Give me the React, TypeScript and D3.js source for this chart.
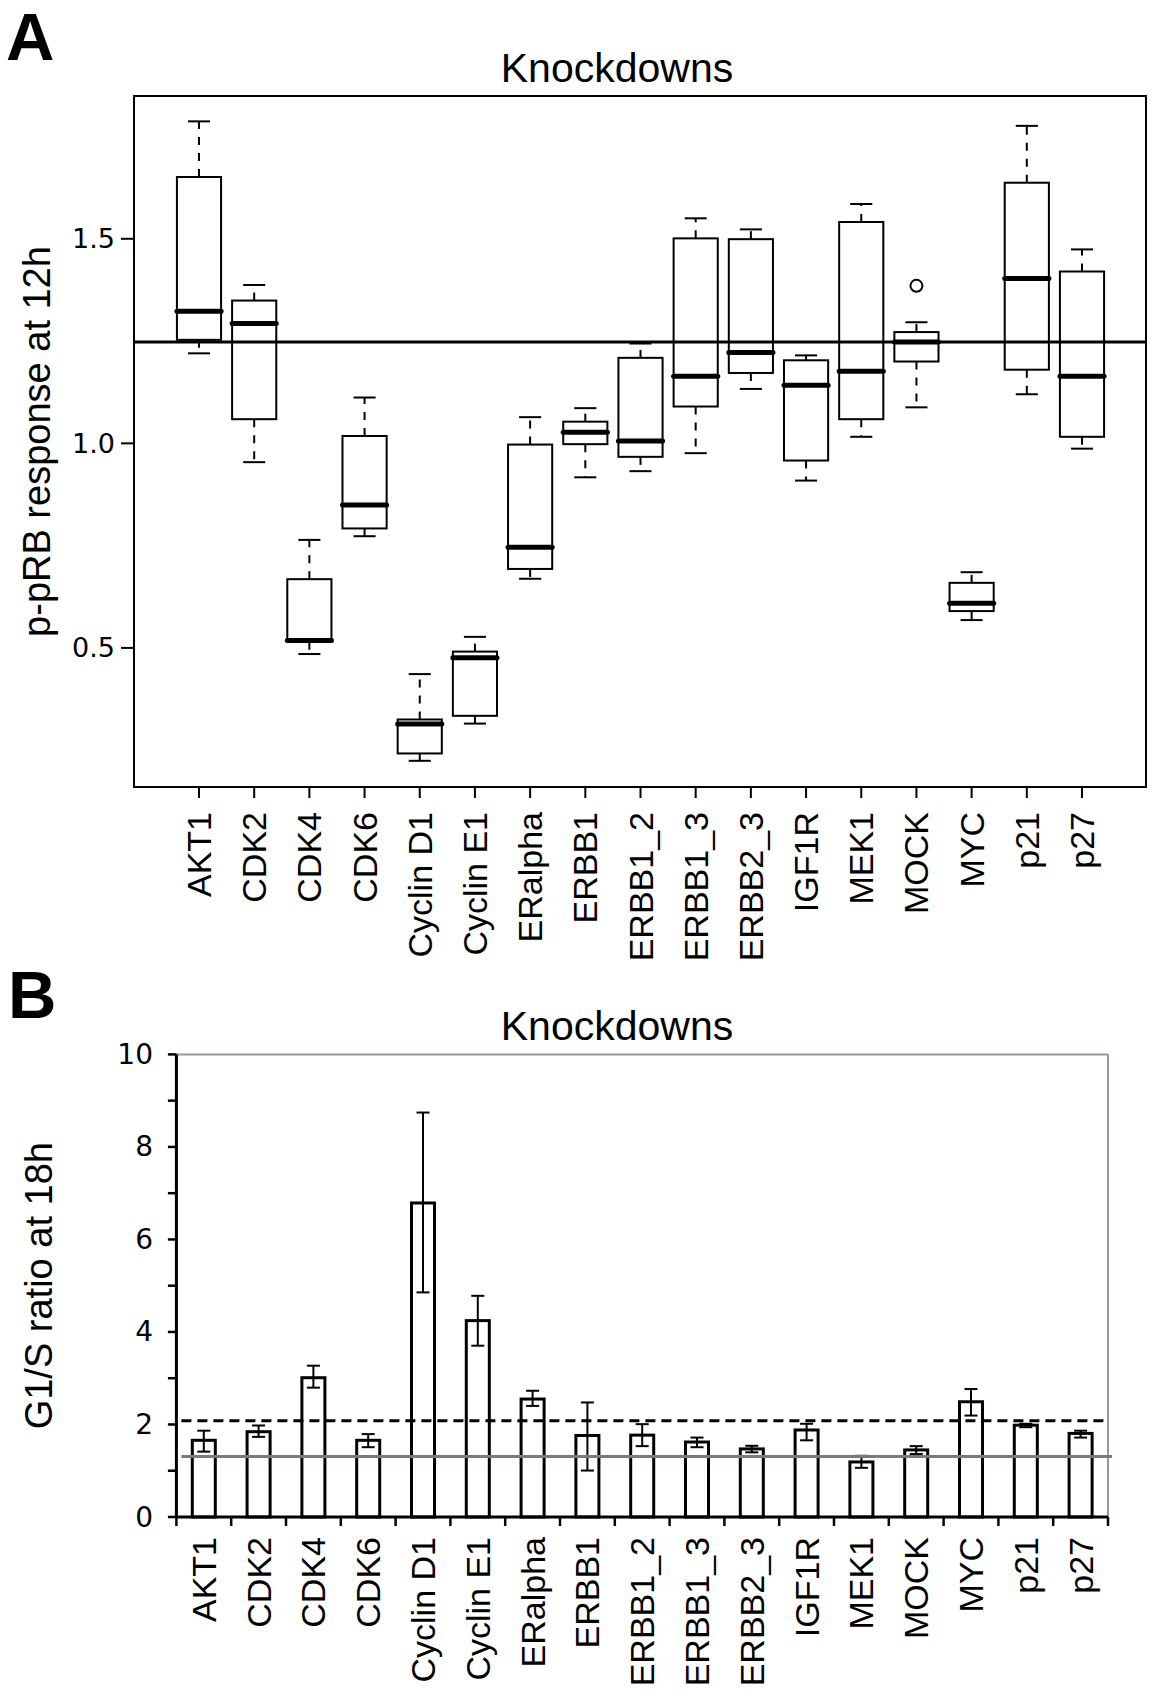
import * as d3 from "d3";

// knockdown targets, same order in both panels
const categories = [
  "AKT1", "CDK2", "CDK4", "CDK6", "Cyclin D1", "Cyclin E1", "ERalpha", "ERBB1",
  "ERBB1_2", "ERBB1_3", "ERBB2_3", "IGF1R", "MEK1", "MOCK", "MYC", "p21", "p27",
];

// panel A: p-pRB response at 12h (box plot summaries)
const whiskerHigh = [1.787, 1.387, 0.764, 1.112, 0.436, 0.527, 1.064, 1.086, 1.244, 1.55, 1.523, 1.215, 1.585, 1.296, 0.685, 1.776, 1.474];
const upperQ = [1.651, 1.349, 0.668, 1.018, 0.325, 0.491, 0.997, 1.053, 1.209, 1.501, 1.499, 1.203, 1.541, 1.272, 0.659, 1.637, 1.42];
const medians = [1.323, 1.293, 0.518, 0.849, 0.314, 0.476, 0.746, 1.027, 1.006, 1.164, 1.222, 1.142, 1.176, 1.248, 0.609, 1.403, 1.164];
const lowerQ = [1.253, 1.059, 0.515, 0.792, 0.242, 0.334, 0.693, 0.998, 0.967, 1.09, 1.172, 0.958, 1.059, 1.2, 0.59, 1.18, 1.016];
const whiskerLow = [1.22, 0.954, 0.485, 0.773, 0.224, 0.315, 0.669, 0.917, 0.932, 0.976, 1.133, 0.909, 1.016, 1.088, 0.568, 1.12, 0.987];
const outliers = [{ cat: "MOCK", value: 1.385 }];
const mockLevel = 1.248;
const ticksA = [0.5, 1.0, 1.5];

// panel B: G1/S ratio at 18h
const ratioMeans = [1.658, 1.844, 3.011, 1.658, 6.788, 4.245, 2.55, 1.762, 1.77, 1.621, 1.472, 1.881, 1.19, 1.45, 2.491, 1.985, 1.807];
const errHigh = [1.866, 1.978, 3.271, 1.792, 8.743, 4.781, 2.729, 2.476, 2.007, 1.717, 1.539, 2.015, 1.323, 1.532, 2.766, 2.015, 1.866];
const errLow = [1.413, 1.732, 2.796, 1.509, 4.855, 3.703, 2.401, 1.004, 1.532, 1.509, 1.398, 1.658, 1.063, 1.361, 2.193, 1.941, 1.717];
const dashedLevel = 2.082;
const greyLevel = 1.309;
const ticksB = d3.range(0, 11, 1);

const W = 1173;
const H = 1706;
const arial = "'Liberation Sans', Arial, sans-serif";
const verdana = "'DejaVu Sans', Verdana, sans-serif";

// panel A geometry
const boxA = { left: 134, right: 1146, top: 96, bottom: 787 };
// panel B geometry
const boxB = { left: 176.4, right: 1108, top: 1054.4, bottom: 1517 };

function App() {
  const xA = d3.scalePoint<string>().domain(categories).range([199, 1082]);
  const yA = d3.scaleLinear().domain([0.16, 1.849]).range([boxA.bottom, boxA.top]);
  const boxW = xA.step() * 0.8;
  const capW = boxW * 0.5;

  const xB = d3
    .scaleBand<string>()
    .domain(categories)
    .range([boxB.left, boxB.right])
    .paddingInner(0.58)
    .paddingOuter(0.29);
  const yB = d3.scaleLinear().domain([0, 10]).range([boxB.bottom, boxB.top]);
  const bw = xB.bandwidth();
  const edgesB = categories
    .map((c) => (xB(c) as number) + bw / 2 - xB.step() / 2)
    .concat([boxB.right]);

  return (
    <svg
      width={W}
      height={H}
      style={{ position: "absolute", left: 0, top: 0, background: "white" }}
    >
      {/* ---------- panel A ---------- */}
      <text x={6} y={60} fontFamily={arial} fontWeight="bold" fontSize={67}>A</text>
      <text x={617} y={82} textAnchor="middle" fontFamily={arial} fontSize={41}>
        Knockdowns
      </text>
      <text
        transform={`translate(50,${(boxA.top + boxA.bottom) / 2}) rotate(-90)`}
        textAnchor="middle"
        fontFamily={arial}
        fontSize={38}
      >
        p-pRB response at 12h
      </text>

      <rect
        x={boxA.left}
        y={boxA.top}
        width={boxA.right - boxA.left}
        height={boxA.bottom - boxA.top}
        fill="none"
        stroke="black"
        strokeWidth={2}
      />

      {/* y axis */}
      {ticksA.map((t) => (
        <g key={t}>
          <line x1={boxA.left - 13} x2={boxA.left} y1={yA(t)} y2={yA(t)} stroke="black" strokeWidth={2} />
          <text
            x={115}
            y={yA(t)}
            textAnchor="end"
            dominantBaseline="central"
            fontFamily={verdana}
            fontSize={27}
          >
            {t.toFixed(1)}
          </text>
        </g>
      ))}

      {/* x axis */}
      {categories.map((c) => (
        <g key={c}>
          <line x1={xA(c)} x2={xA(c)} y1={boxA.bottom} y2={boxA.bottom + 11} stroke="black" strokeWidth={2} />
          <text
            transform={`translate(${(xA(c) as number) + 12},812) rotate(-90)`}
            textAnchor="end"
            fontFamily={arial}
            fontSize={34}
          >
            {c}
          </text>
        </g>
      ))}

      {/* boxes */}
      {categories.map((c, i) => {
        const cx = xA(c) as number;
        return (
          <g key={c} stroke="black">
            <line x1={cx} x2={cx} y1={yA(upperQ[i])} y2={yA(whiskerHigh[i])} strokeWidth={2} strokeDasharray="8 8" />
            <line x1={cx} x2={cx} y1={yA(lowerQ[i])} y2={yA(whiskerLow[i])} strokeWidth={2} strokeDasharray="8 8" />
            <line x1={cx - capW / 2} x2={cx + capW / 2} y1={yA(whiskerHigh[i])} y2={yA(whiskerHigh[i])} strokeWidth={2} />
            <line x1={cx - capW / 2} x2={cx + capW / 2} y1={yA(whiskerLow[i])} y2={yA(whiskerLow[i])} strokeWidth={2} />
            <rect
              x={cx - boxW / 2}
              y={yA(upperQ[i])}
              width={boxW}
              height={yA(lowerQ[i]) - yA(upperQ[i])}
              fill="white"
              strokeWidth={2}
            />
            <line
              x1={cx - boxW / 2}
              x2={cx + boxW / 2}
              y1={yA(medians[i])}
              y2={yA(medians[i])}
              strokeWidth={5}
              strokeLinecap="round"
            />
          </g>
        );
      })}
      {outliers.map((o) => (
        <circle key={o.cat} cx={xA(o.cat)} cy={yA(o.value)} r={6} fill="none" stroke="black" strokeWidth={2} />
      ))}
      <line x1={boxA.left} x2={boxA.right} y1={yA(mockLevel)} y2={yA(mockLevel)} stroke="black" strokeWidth={3} />

      {/* ---------- panel B ---------- */}
      <text x={8} y={1018} fontFamily={arial} fontWeight="bold" fontSize={67}>B</text>
      <text x={617} y={1040} textAnchor="middle" fontFamily={arial} fontSize={41}>
        Knockdowns
      </text>
      <text
        transform={`translate(52,${(boxB.top + boxB.bottom) / 2}) rotate(-90)`}
        textAnchor="middle"
        fontFamily={arial}
        fontSize={38}
      >
        G1/S ratio at 18h
      </text>

      {/* grey frame top/right */}
      <line x1={boxB.left} x2={boxB.right} y1={boxB.top} y2={boxB.top} stroke="#8e9b9b" strokeWidth={2} />
      <line x1={boxB.right} x2={boxB.right} y1={boxB.top} y2={boxB.bottom} stroke="#8e9b9b" strokeWidth={2} />

      {/* bars + error bars */}
      {categories.map((c, i) => {
        const x0 = xB(c) as number;
        const cx = x0 + bw / 2;
        return (
          <g key={c} stroke="black">
            <rect
              x={x0}
              y={yB(ratioMeans[i])}
              width={bw}
              height={yB(0) - yB(ratioMeans[i])}
              fill="white"
              strokeWidth={3}
            />
            <line x1={cx} x2={cx} y1={yB(errLow[i])} y2={yB(errHigh[i])} strokeWidth={2} />
            <line x1={cx - 6.5} x2={cx + 6.5} y1={yB(errHigh[i])} y2={yB(errHigh[i])} strokeWidth={2} />
            <line x1={cx - 6.5} x2={cx + 6.5} y1={yB(errLow[i])} y2={yB(errLow[i])} strokeWidth={2} />
          </g>
        );
      })}

      <line
        x1={boxB.left + 5}
        x2={boxB.right}
        y1={yB(dashedLevel)}
        y2={yB(dashedLevel)}
        stroke="black"
        strokeWidth={3}
        strokeDasharray="10 6"
      />
      <line
        x1={boxB.left + 5}
        x2={boxB.right + 4}
        y1={yB(greyLevel)}
        y2={yB(greyLevel)}
        stroke="#6f7e7e"
        strokeWidth={3}
      />

      {/* axes */}
      <line x1={boxB.left} x2={boxB.left} y1={boxB.top} y2={boxB.bottom} stroke="black" strokeWidth={3} />
      <line x1={boxB.left} x2={boxB.right} y1={boxB.bottom} y2={boxB.bottom} stroke="black" strokeWidth={3} />
      {ticksB.map((t) => (
        <g key={t}>
          <line x1={boxB.left - 8.5} x2={boxB.left} y1={yB(t)} y2={yB(t)} stroke="black" strokeWidth={2.5} />
          {t % 2 === 0 && (
            <text
              x={153}
              y={yB(t)}
              textAnchor="end"
              dominantBaseline="central"
              fontFamily={verdana}
              fontSize={28}
            >
              {t}
            </text>
          )}
        </g>
      ))}
      {edgesB.map((e, k) => (
        <line key={k} x1={e} x2={e} y1={boxB.bottom} y2={boxB.bottom + 9} stroke="black" strokeWidth={2.5} />
      ))}
      {categories.map((c) => (
        <text
          key={c}
          transform={`translate(${(xB(c) as number) + bw / 2 + 12},1537) rotate(-90)`}
          textAnchor="end"
          fontFamily={arial}
          fontSize={34}
        >
          {c}
        </text>
      ))}
    </svg>
  );
}

export default App;
